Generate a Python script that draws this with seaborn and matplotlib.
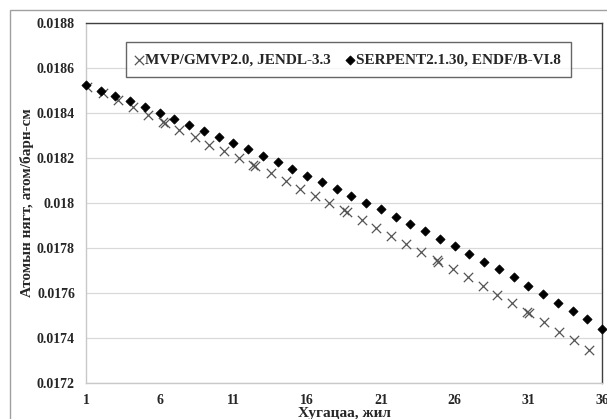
import matplotlib
matplotlib.use("Agg")
import matplotlib.pyplot as plt
import seaborn as sns
from matplotlib.patches import Rectangle

# SERPENT2.1.30, ENDF/B-VI.8 (one point per year)
serpent_t = list(range(1, 37))
serpent_n = [0.018526, 0.018500, 0.018477, 0.018452, 0.018427, 0.018398,
             0.018375, 0.018348, 0.018318, 0.018292, 0.018265, 0.018239,
             0.018210, 0.018182, 0.018151, 0.018120, 0.018092, 0.018064,
             0.018031, 0.018001, 0.017973, 0.017940, 0.017907, 0.017876,
             0.017840, 0.017809, 0.017773, 0.017740, 0.017705, 0.017669,
             0.017631, 0.017596, 0.017556, 0.017521, 0.017484, 0.017441]

# MVP/GMVP2.0, JENDL-3.3
mvp_t = [1.09, 2.13, 3.17, 4.17, 5.19, 6.20, 6.36, 7.33, 8.37, 9.36,
         10.36, 11.41, 12.31, 12.48, 13.53, 14.55, 15.52, 16.53, 17.50, 18.52,
         18.68, 19.72, 20.69, 21.69, 22.68, 23.70, 24.79, 24.86, 25.87, 26.89,
         27.91, 28.90, 29.92, 30.93, 31.05, 32.06, 33.10, 34.10, 35.10]
mvp_n = [0.018514, 0.018487, 0.018456, 0.018425, 0.018392, 0.018360, 0.018356,
         0.018326, 0.018295, 0.018260, 0.018232, 0.018201, 0.018170, 0.018163,
         0.018132, 0.018098, 0.018064, 0.018032, 0.018000, 0.017967, 0.017958,
         0.017926, 0.017890, 0.017855, 0.017819, 0.017784, 0.017748, 0.017740,
         0.017705, 0.017669, 0.017631, 0.017592, 0.017557, 0.017517, 0.017511,
         0.017471, 0.017428, 0.017391, 0.017347]

x_ticks = [1, 6, 11, 16, 21, 26, 31, 36]
y_ticks = [0.0172, 0.0174, 0.0176, 0.0178, 0.018, 0.0182, 0.0184, 0.0186, 0.0188]
y_labels = ["0.0172", "0.0174", "0.0176", "0.0178", "0.018", "0.0182",
            "0.0184", "0.0186", "0.0188"]

sns.set_style("white")
plt.rcParams["font.family"] = ["Liberation Serif", "DejaVu Serif"]
plt.rcParams["font.weight"] = "bold"

fig = plt.figure(figsize=(6.07, 4.19), dpi=100)
ax = fig.add_axes([86 / 607, 1 - 383 / 419, 516 / 607, 360 / 419])

# outer chart frame
fig.patches.append(Rectangle((10 / 607, -0.05), 1.0, 1 - 10 / 419 + 0.05,
                             transform=fig.transFigure, fill=False,
                             edgecolor="#a0a0a0", linewidth=1.0))

sns.scatterplot(x=mvp_t, y=mvp_n, ax=ax, marker="x", s=45, color="#555555",
                linewidth=0.9, label="MVP/GMVP2.0, JENDL-3.3", zorder=3)
sns.scatterplot(x=serpent_t, y=serpent_n, ax=ax, marker="D", s=22, color="black",
                edgecolor="black", linewidth=0.5,
                label="SERPENT2.1.30, ENDF/B-VI.8", zorder=4, clip_on=False)

ax.set_xlim(1, 36)
ax.set_ylim(0.0172, 0.0188)
ax.set_xticks(x_ticks)
ax.set_yticks(y_ticks)
ax.set_yticklabels(y_labels)
ax.tick_params(length=0, labelsize=10, pad=8)
ax.yaxis.grid(True, color="#d9d9d9", linewidth=0.9)
ax.set_axisbelow(True)

for side in ["left", "bottom"]:
    ax.spines[side].set_color("#c8c8c8")
    ax.spines[side].set_linewidth(1.0)
for side in ["top", "right"]:
    ax.spines[side].set_color("#404040")
    ax.spines[side].set_linewidth(1.0)

ax.set_xlabel("Хугацаа, жил", fontsize=11, fontweight="bold", labelpad=0)
ax.set_ylabel("Атомын нягт, атом/барн-см", fontsize=11, fontweight="bold", labelpad=2)

leg = ax.legend(loc="upper left", bbox_to_anchor=(0.062, 0.968), ncol=2,
                frameon=True, fancybox=False, handlelength=0.4, handletextpad=0.2,
                columnspacing=1.0, borderpad=0.7, fontsize=11)
leg.get_frame().set_edgecolor("#404040")
leg.get_frame().set_linewidth(1.0)

fig.savefig("out.png", dpi=100)
